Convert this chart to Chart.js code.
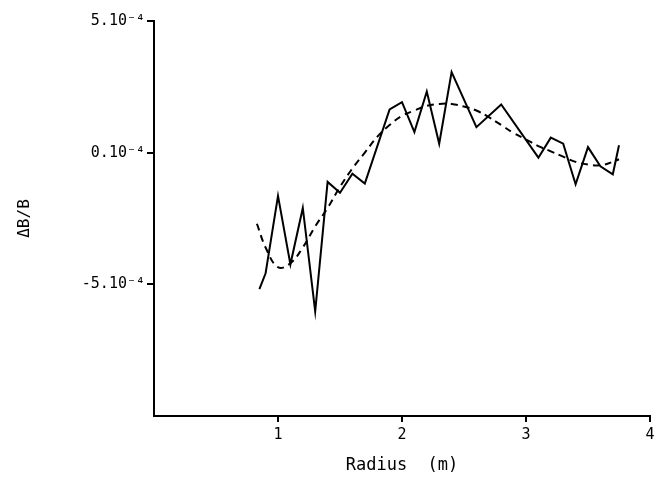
<!DOCTYPE html>
<html><head><meta charset="utf-8">
<script src="https://cdn.jsdelivr.net/npm/chart.js@4"></script>
<style>html,body{margin:0;padding:0;background:#fff}#wrap{width:666px;height:483px;position:relative}</style>
</head><body><div id="wrap"><canvas id="c"></canvas></div>
<script>
// Radius (m) and ΔB/B in units of 1e-4
const measuredR = [0.85, 0.9, 1.0, 1.1, 1.2, 1.3, 1.4, 1.5, 1.6, 1.7, 1.9, 2.0, 2.1, 2.2, 2.3, 2.4, 2.6, 2.8, 3.1, 3.2, 3.3, 3.4, 3.5, 3.6, 3.7, 3.75];
const measuredV = [-5.18, -4.58, -1.64, -4.24, -2.10, -6.03, -1.11, -1.52, -0.80, -1.17, 1.64, 1.92, 0.78, 2.32, 0.34, 3.06, 0.97, 1.83, -0.19, 0.57, 0.34, -1.20, 0.21, -0.52, -0.82, 0.28];
const fitR = [0.83, 0.9, 1.0, 1.1, 1.2, 1.3, 1.4, 1.5, 1.6, 1.7, 1.8, 1.9, 2.0, 2.1, 2.2, 2.3, 2.4, 2.5, 2.6, 2.7, 2.8, 2.9, 3.0, 3.1, 3.2, 3.3, 3.4, 3.5, 3.6, 3.7, 3.75];
const fitV = [-2.7, -3.6, -4.35, -4.2, -3.6, -2.8, -2.1, -1.3, -0.6, 0.0, 0.6, 1.05, 1.4, 1.6, 1.78, 1.85, 1.85, 1.75, 1.6, 1.35, 1.05, 0.75, 0.5, 0.25, 0.05, -0.15, -0.35, -0.45, -0.48, -0.35, -0.25];
const xTicks = [1, 2, 3, 4];
const yTicks = [-5, 0, 5];

const FONT = 'DejaVu Sans Mono';
const toPts = (xs, ys) => xs.map((x, i) => ({x: x, y: ys[i]}));

new Chart(document.getElementById('c'), {
  type: 'line',
  data: {
    datasets: [
      {data: toPts(measuredR, measuredV), borderColor: '#000', borderWidth: 2, pointRadius: 0, tension: 0, fill: false},
      {data: toPts(fitR, fitV), borderColor: '#000', borderWidth: 2, borderDash: [7, 5], pointRadius: 0, tension: 0.4, fill: false}
    ]
  },
  options: {
    responsive: true, maintainAspectRatio: false, animation: false,
    layout: {padding: {left: 0, right: 16, top: 21, bottom: 0}},
    plugins: {legend: {display: false}, tooltip: {enabled: false}},
    scales: {
      x: {
        type: 'linear', min: 0, max: 4,
        afterBuildTicks: s => { s.ticks = xTicks.map(v => ({value: v})); },
        afterFit: s => { s.height = 67; },
        grid: {drawOnChartArea: false, drawTicks: true, tickLength: 6, color: '#000', lineWidth: 2},
        border: {display: true, color: '#000', width: 2},
        ticks: {color: '#000', font: {family: FONT, size: 15}, padding: 4, maxRotation: 0},
        title: {display: true, text: 'Radius  (m)', color: '#000', font: {family: FONT, size: 17}, padding: {top: 0, bottom: 7}}
      },
      y: {
        type: 'linear', min: -10, max: 5,
        afterBuildTicks: s => { s.ticks = yTicks.map(v => ({value: v})); },
        afterFit: s => { s.width = 154; },
        grid: {drawOnChartArea: false, drawTicks: true, tickLength: 7, color: '#000', lineWidth: 2},
        border: {display: true, color: '#000', width: 2},
        ticks: {color: '#000', font: {family: FONT, size: 15}, padding: 2, callback: v => v + '.10⁻⁴'},
        title: {display: true, text: 'ΔB/B', color: '#000', font: {family: FONT, size: 16}, padding: {top: 15, bottom: 0}}
      }
    }
  }
});
</script></body></html>
